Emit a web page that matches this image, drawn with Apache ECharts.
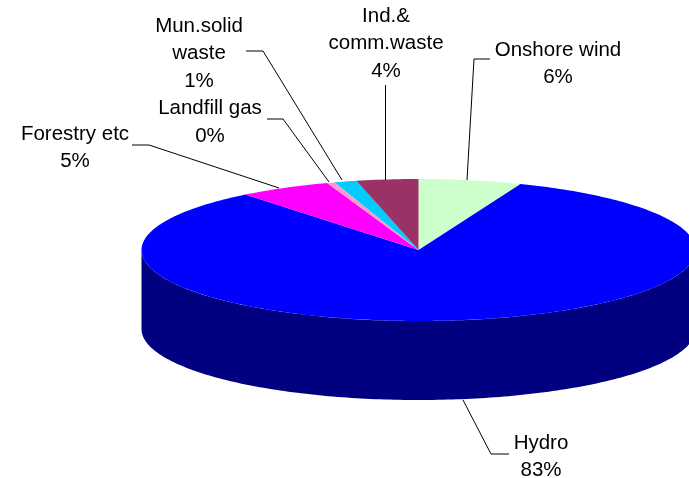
<!DOCTYPE html>
<html>
<head>
<meta charset="utf-8">
<style>
html, body { margin: 0; padding: 0; background: #fff; }
#main { width: 689px; height: 478px; }
</style>
<script src="https://cdn.jsdelivr.net/npm/echarts@6/dist/echarts.min.js"></script>
</head>
<body>
<div id="main"></div>
<script>
/* data, clockwise from 12 o'clock */
var names = ['Onshore wind', 'Hydro', 'Forestry etc', 'Landfill gas', 'Mun.solid\nwaste', 'Ind.&\ncomm.waste'];
var values = [6.0, 83.2, 5.4, 0.45, 1.3, 3.6];
var topColors = ['#CCFFCC', '#0000FF', '#FF00FF', '#FF99CC', '#00CCFF', '#993366'];
var sideColors = ['#668066', '#000080', '#800080', '#804C66', '#006680', '#4C1933'];

/* pie geometry */
var cx = 418.5, cy = 250, rx = 277, ry = 71, depth = 79;

/* label centre and leader line for each slice */
var labelPos = [[558, 64], [541, 457], [75, 148], [210, 122.5], [199, 53.5], [386, 43.5]];
var leaders = [
	[[490, 59], [474, 59], [467, 180]],
	[[509, 454], [491, 454], [463, 400]],
	[[132, 145], [149, 145], [279, 188]],
	[[267, 119], [283, 119], [329, 182]],
	[[246, 51], [263, 51], [342, 180]],
	[[385.5, 85], [385.5, 180]]
];

var total = values.reduce(function (a, b) { return a + b; }, 0);

function rimPoint(deg, dy) {
	var r = deg * Math.PI / 180;
	return [cx + rx * Math.sin(r), cy - ry * Math.cos(r) + dy];
}

function arcPoints(from, to, dy) {
	var pts = [];
	var n = Math.max(2, Math.ceil(Math.abs(to - from)));
	for (var i = 0; i <= n; i++) {
		pts.push(rimPoint(from + (to - from) * i / n, dy));
	}
	return pts;
}

function renderSlice(params, api) {
	var i = params.dataIndex;
	var before = 0;
	for (var k = 0; k < i; k++) before += values[k];
	var start = before / total * 360;
	var end = (before + api.value(0)) / total * 360;
	var children = [];

	/* side wall, only the front half of the rim can be seen */
	var a = Math.max(start, 90), b = Math.min(end, 270);
	if (b > a) {
		children.push({
			type: 'polygon',
			z2: 1,
			shape: { points: arcPoints(a, b, 0).concat(arcPoints(b, a, depth)) },
			style: { fill: sideColors[i] }
		});
	}
	/* top face */
	children.push({
		type: 'polygon',
		z2: 2,
		shape: { points: [[cx, cy]].concat(arcPoints(start, end, 0)) },
		style: { fill: topColors[i] }
	});
	children.push({
		type: 'polyline',
		z2: 3,
		shape: { points: leaders[i] },
		style: { stroke: '#000', lineWidth: 1, fill: null }
	});
	children.push({
		type: 'text',
		z2: 4,
		x: labelPos[i][0],
		y: labelPos[i][1],
		style: {
			text: names[i] + '\n' + Math.round(api.value(0) / total * 100) + '%',
			fontFamily: '"Liberation Sans", Arial, sans-serif',
			fontSize: 20.5,
			lineHeight: 27.5,
			fill: '#000',
			align: 'center',
			verticalAlign: 'middle'
		}
	});
	return { type: 'group', children: children };
}

var myChart = echarts.init(document.getElementById('main'));
myChart.setOption({
	animation: false,
	backgroundColor: '#fff',
	series: [{
		type: 'custom',
		coordinateSystem: 'none',
		silent: true,
		renderItem: renderSlice,
		data: values.map(function (v) { return [v]; })
	}]
});
</script>
</body>
</html>
